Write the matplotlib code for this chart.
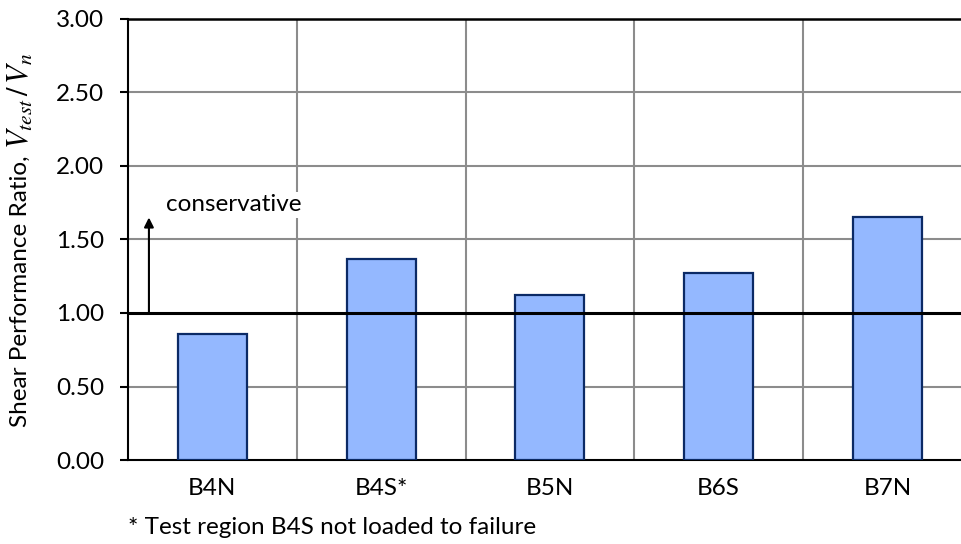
import numpy as np
import matplotlib
matplotlib.use("Agg")
import matplotlib.pyplot as plt

plt.rcParams['font.family'] = ['Lato', 'DejaVu Sans']
plt.rcParams['mathtext.fontset'] = 'stix'

# data
regions = ["B4N", "B4S*", "B5N", "B6S", "B7N"]
ratios = [0.86, 1.37, 1.12, 1.27, 1.65]
yticks = [0.0, 0.5, 1.0, 1.5, 2.0, 2.5, 3.0]

fig = plt.figure(figsize=(9.61, 5.44), dpi=100)
ax = fig.add_axes([0.1332, 0.1544, 0.878, 0.8107])

x = np.arange(len(regions))
ax.bar(x, ratios, width=0.41, color="#94B8FF", edgecolor="#0B2A66",
       linewidth=1.6, zorder=3)

ax.set_xlim(-0.5, len(regions) - 0.5)
ax.set_ylim(0, 3)

# grid lines
for yv in yticks[1:-1]:
    if yv != 1.0:
        ax.axhline(yv, color="#8c8c8c", linewidth=1.5, zorder=1)
for xv in x[:-1] + 0.5:
    ax.axvline(xv, color="#8c8c8c", linewidth=1.5, zorder=1)
ax.axhline(1.0, color="black", linewidth=2.2, zorder=4)
ax.axhline(3.0, color="black", linewidth=1.8, zorder=4, clip_on=False)

for s in ["top", "right"]:
    ax.spines[s].set_visible(False)
ax.spines["left"].set_linewidth(1.5)
ax.spines["bottom"].set_linewidth(1.5)

fs = 17.5
ax.set_yticks(yticks)
ax.set_yticklabels([f"{v:.2f}" for v in yticks], fontsize=fs)
ax.tick_params(axis="y", length=6, width=1.5, pad=11, direction="out")
ax.set_xticks(x)
ax.set_xticklabels(regions, fontsize=fs)
ax.tick_params(axis="x", length=0, pad=13)

# y label in two pieces so the math part can be larger, centred on the axes
H = 544
lab1 = fig.text(0.021, 0.5, "Shear Performance Ratio, ", fontsize=17.5,
                rotation=90, ha="center", va="bottom")
lab2 = fig.text(0.021, 0.5, r"$V_{test}\,/\,V_n$", fontsize=22,
                rotation=90, ha="center", va="bottom")
r = fig.canvas.get_renderer()
h1 = lab1.get_window_extent(r).height
h2 = lab2.get_window_extent(r).height
center = (460 + 19) / 2
y0 = (H - center) - (h1 + h2) / 2
lab1.set_y(y0 / H)
lab2.set_y((y0 + h1) / H)

# conservative arrow
ax.annotate("", xy=(-0.376, 1.65), xytext=(-0.376, 1.0),
            arrowprops=dict(arrowstyle="-|>", color="black", lw=1.5,
                            mutation_scale=14, shrinkA=0, shrinkB=0),
            zorder=5)
ax.text(-0.275, 1.735, "conservative", fontsize=fs, va="center", ha="left",
        bbox=dict(facecolor="white", edgecolor="none", pad=2), zorder=5)

fig.text(0.133, 0.03, "* Test region B4S not loaded to failure", fontsize=fs,
         va="center", ha="left")

fig.savefig("out.png", dpi=100)
